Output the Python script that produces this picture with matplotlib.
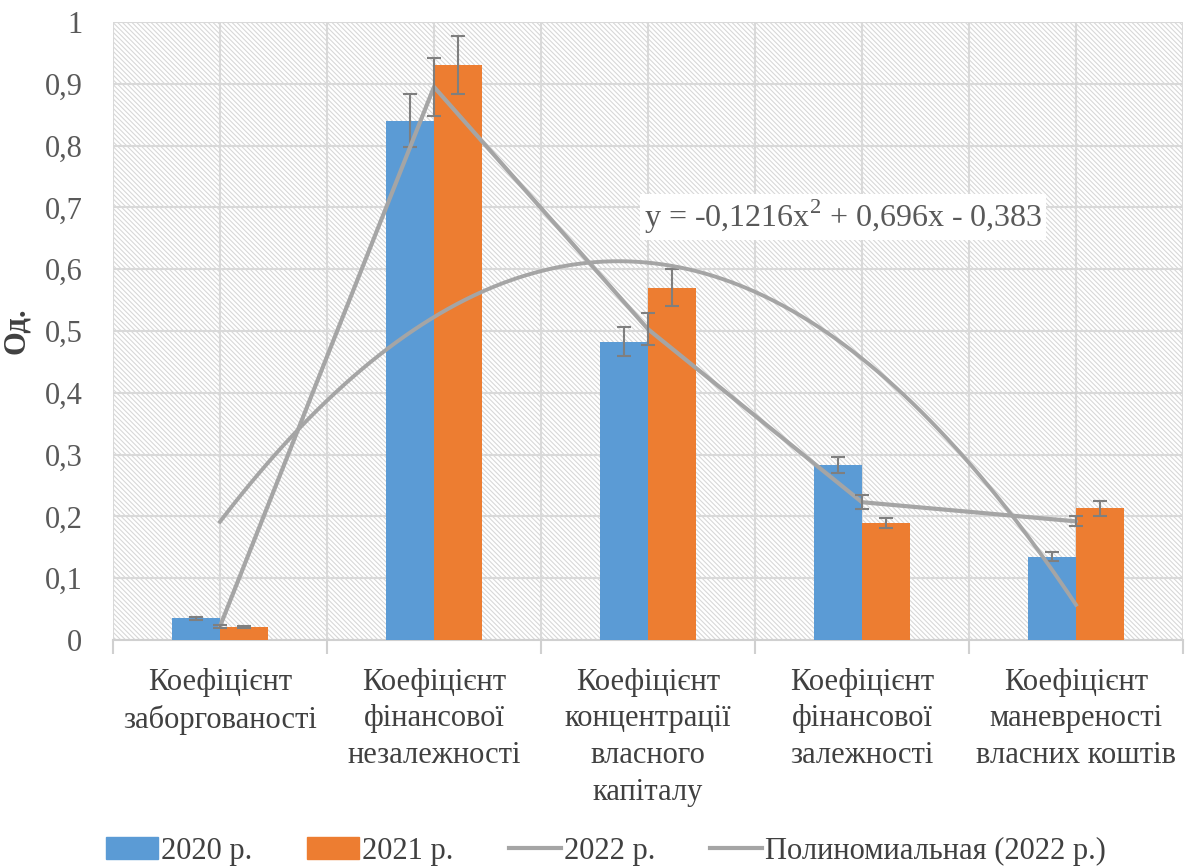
import numpy as np
import matplotlib.pyplot as plt
from matplotlib.ticker import FuncFormatter
from matplotlib.patches import Patch
from matplotlib.lines import Line2D

plt.rcParams['font.family'] = ['Liberation Serif', 'DejaVu Serif']
plt.rcParams['hatch.color'] = '#d8d8d8'
plt.rcParams['hatch.linewidth'] = 0.8
plt.rcParams['mathtext.fontset'] = 'custom'
plt.rcParams['mathtext.rm'] = 'Liberation Serif'

categories = ['Коефіцієнт\nзаборгованості',
              'Коефіцієнт\nфінансової\nнезалежності',
              'Коефіцієнт\nконцентрації\nвласного\nкапіталу',
              'Коефіцієнт\nфінансової\nзалежності',
              'Коефіцієнт\nманевреності\nвласних коштів']

vals_2020 = [0.035, 0.840, 0.483, 0.283, 0.135]
err_2020 = [0.003, 0.043, 0.024, 0.013, 0.007]
vals_2021 = [0.021, 0.930, 0.570, 0.190, 0.213]
err_2021 = [0.002, 0.047, 0.030, 0.008, 0.012]
vals_2022 = [0.022, 0.895, 0.503, 0.223, 0.192]
err_2022 = [0.002, 0.047, 0.026, 0.011, 0.008]

# trendline coefficients as printed on the chart
trend_coef = [-0.1216, 0.696, -0.383]
trend_label = r'y = -0,1216x$^{\mathrm{2}}$ + 0,696x - 0,383'

blue = '#5b9bd5'
orange = '#ed7d31'
gray = '#a5a5a5'
errc = '#7f7f7f'
textc = '#595959'

fig = plt.figure(figsize=(11.88, 8.67), dpi=100)
ax = fig.add_axes([0.0951, 0.2618, 0.9007, 0.7128])

ax.patch.set_facecolor('white')
ax.patch.set_hatch('\\' * 7)
ax.patch.set_edgecolor('#d8d8d8')

x = np.arange(len(categories))
w = 0.225

ax.bar(x - w / 2, vals_2020, w, color=blue, zorder=3)
ax.bar(x + w / 2, vals_2021, w, color=orange, zorder=3)
ax.errorbar(x - w / 2, vals_2020, yerr=err_2020, fmt='none', ecolor=errc,
            elinewidth=1.5, capsize=5, capthick=1.5, zorder=5)
ax.errorbar(x + w / 2, vals_2021, yerr=err_2021, fmt='none', ecolor=errc,
            elinewidth=1.5, capsize=5, capthick=1.5, zorder=5)

ax.plot(x, vals_2022, color=gray, lw=3, zorder=6, solid_capstyle='round')
ax.errorbar(x, vals_2022, yerr=err_2022, fmt='none', ecolor=errc,
            elinewidth=1.5, capsize=5, capthick=1.5, zorder=7)

xt = np.linspace(1, 5, 200)
ax.plot(xt - 1, np.polyval(trend_coef, xt), color=gray, lw=2.8, zorder=6)

ax.text(1.98, 0.668, trend_label, fontsize=23, color=textc, zorder=8,
        bbox=dict(facecolor='white', edgecolor='none', pad=3))

ax.set_xlim(-0.5, 4.5)
ax.set_ylim(0, 1)
ax.set_yticks(np.arange(0, 1.01, 0.1))
ax.yaxis.set_major_formatter(FuncFormatter(
    lambda v, p: '0' if abs(v) < 1e-9 else ('1' if abs(v - 1) < 1e-9 else f'{v:.1f}'.replace('.', ','))))
ax.set_xticks(x)
ax.set_xticklabels(categories, fontsize=22, color='#404040', linespacing=1.35)
ax.set_xticks(np.arange(-0.5, 4.6, 1), minor=True)
ax.tick_params(axis='x', which='major', length=0, pad=20)
ax.tick_params(axis='x', which='minor', length=10, color='#d0d0d0', width=1.5)
ax.tick_params(axis='y', length=0, labelsize=22, labelcolor=textc, pad=22)

ax.grid(True, which='both', axis='x', color='#d9d9d9', lw=1.5, zorder=0)
ax.grid(True, which='major', axis='y', color='#d9d9d9', lw=1.5, zorder=0)
ax.set_axisbelow(True)
for s in ['top', 'right', 'left']:
    ax.spines[s].set_visible(False)
ax.spines['bottom'].set_color('#d0d0d0')
ax.spines['bottom'].set_linewidth(1.5)

ax.set_ylabel('Од.', fontsize=22, fontweight='bold', color='#404040', labelpad=10)

handles = [Patch(color=blue), Patch(color=orange),
           Line2D([], [], color=gray, lw=3), Line2D([], [], color=gray, lw=3)]
labels = ['2020 р.', '2021 р.', '2022 р.', 'Полиномиальная (2022 р.)']
fig.legend(handles, labels, loc='lower center', bbox_to_anchor=(0.51, -0.03),
           ncol=4, frameon=False, fontsize=22, handlelength=1.7,
           handletextpad=0.1, columnspacing=1.8, labelcolor='#404040')

fig.savefig('out.png', dpi=100)
